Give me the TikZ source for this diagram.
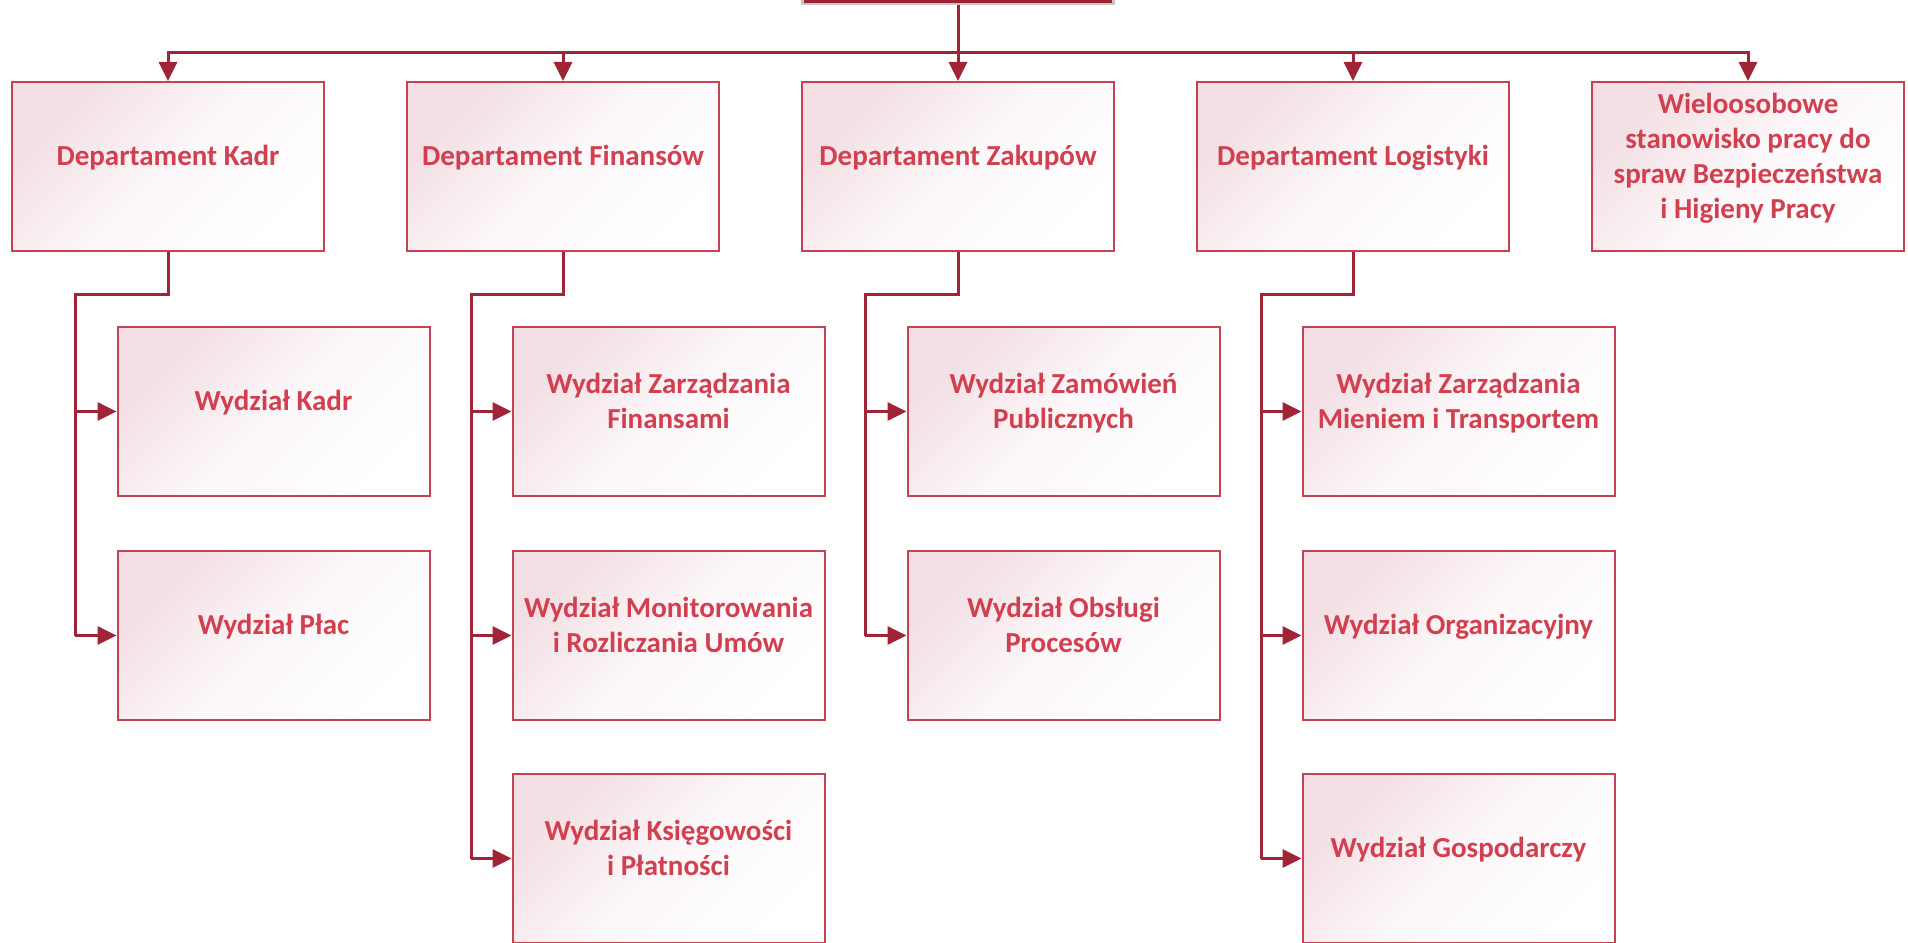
\documentclass[tikz,border=0pt]{standalone}
\usepackage{fontspec}
\setmainfont{Carlito}
\usetikzlibrary{arrows.meta}
\definecolor{linered}{RGB}{160,36,54}
\definecolor{boxred}{RGB}{198,66,82}
\definecolor{txtred}{RGB}{210,64,80}
\definecolor{topred}{RGB}{156,34,52}
\definecolor{shadepink}{RGB}{242,222,227}

\begin{document}
\begin{tikzpicture}[x=1pt,y=-1pt,
		box/.style={draw=boxred, line width=2pt, top color=shadepink, bottom color=white, middle color=shadepink!25, shading angle=45,
			minimum width=312pt, minimum height=169pt, align=center, text=txtred,
			font=\fontsize{29}{35}\selectfont\bfseries, text depth=22pt},
		conn/.style={draw=linered, line width=3pt},
		arr/.style={conn, -{Triangle[length=19pt,width=18pt]}}]
		\useasboundingbox (0,0) rectangle (1908,942);
		\clip (0,0) rectangle (1908,942);
		
		\node[draw=gray!45, line width=2.5pt, fill=topred, minimum width=311pt, minimum height=120pt] (top) at (958,-56) {};
		
		\node[box] (kadr) at (168,166.5) {Departament Kadr};
		\node[box] (fin) at (563,166.5) {Departament Finansów};
		\node[box] (zak) at (958,166.5) {Departament Zakupów};
		\node[box] (log) at (1353,166.5) {Departament Logistyki};
		\node[box] (bhp) at (1748,166.5) {Wieloosobowe\\stanowisko pracy do\\spraw Bezpieczeństwa\\i Higieny Pracy};
		
		\node[box] (kadr1) at (273.5,411.5) {Wydział Kadr};
		\node[box] (kadr2) at (273.5,635.5) {Wydział Płac};
		\node[box] (fin1) at (668.5,411.5) {Wydział Zarządzania\\Finansami};
		\node[box] (fin2) at (668.5,635.5) {Wydział Monitorowania\\i Rozliczania Umów};
		\node[box] (fin3) at (668.5,858.5) {Wydział Księgowości\\i Płatności};
		\node[box] (zak1) at (1063.5,411.5) {Wydział Zamówień\\Publicznych};
		\node[box] (zak2) at (1063.5,635.5) {Wydział Obsługi\\Procesów};
		\node[box] (log1) at (1458.5,411.5) {Wydział Zarządzania\\Mieniem i Transportem};
		\node[box] (log2) at (1458.5,635.5) {Wydział Organizacyjny};
		\node[box] (log3) at (1458.5,858.5) {Wydział Gospodarczy};
		
		% top level
		\coordinate (bus) at (958,53);
		\draw[conn] (top.south) -- (bus);
		\foreach \d in {kadr,fin,zak,log,bhp}
			\draw[arr] (bus) -| (\d.north);
		
		% departments
		\foreach \d/\x/\n in {kadr/75/2,fin/471/3,zak/865/2,log/1261/3}{
			\coordinate (\d-k) at (\x,294);
			\draw[conn] (\d.south) |- (\d-k) -- (\d-k |- \d\n.west);
			\foreach \i in {1,...,\n}
				\draw[arr] (\d-k |- \d\i.west) -- (\d\i.west);
		}
	\end{tikzpicture}
\end{document}
